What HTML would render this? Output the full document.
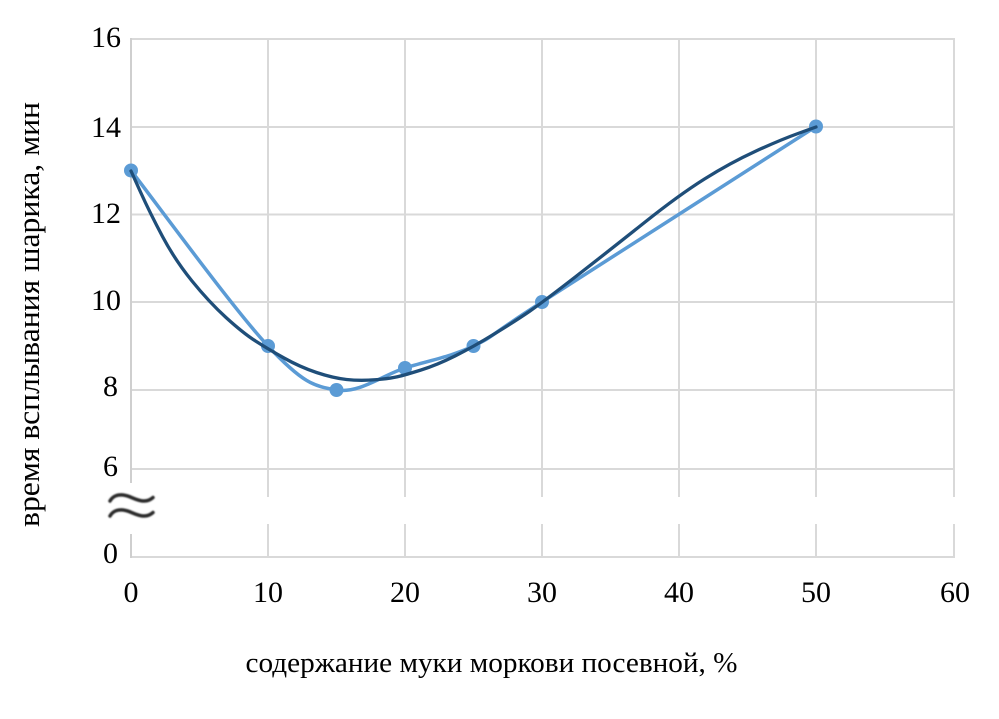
<!DOCTYPE html>
<html>
<head>
<meta charset="utf-8">
<style>
  html, body { margin: 0; padding: 0; background: #ffffff; }
  svg { display: block; }
  text { font-family: "Liberation Serif", "DejaVu Serif", serif; fill: #000; }
</style>
</head>
<body>
<svg width="999" height="719" viewBox="0 0 999 719" xmlns="http://www.w3.org/2000/svg">
  <defs>
    <filter id="blur" x="-20%" y="-50%" width="140%" height="200%">
      <feGaussianBlur stdDeviation="0.8"/>
    </filter>
  </defs>
  <rect x="0" y="0" width="999" height="719" fill="#ffffff"/>

  <!-- horizontal gridlines -->
  <g stroke="#d9d9d9" stroke-width="2" fill="none">
    <line x1="131" y1="39" x2="954" y2="39"/>
    <line x1="131" y1="127" x2="954" y2="127"/>
    <line x1="131" y1="214.5" x2="954" y2="214.5"/>
    <line x1="131" y1="302" x2="954" y2="302"/>
    <line x1="131" y1="390" x2="954" y2="390"/>
    <line x1="131" y1="469" x2="954" y2="469"/>
    <line x1="131" y1="557" x2="954" y2="557"/>
  </g>
  <!-- vertical gridlines with break -->
  <g stroke="#d9d9d9" stroke-width="2" fill="none">
    <line x1="268" y1="38" x2="268" y2="497"/><line x1="268" y1="524" x2="268" y2="558"/>
    <line x1="405" y1="38" x2="405" y2="497"/><line x1="405" y1="524" x2="405" y2="558"/>
    <line x1="542" y1="38" x2="542" y2="497"/><line x1="542" y1="524" x2="542" y2="558"/>
    <line x1="679" y1="38" x2="679" y2="497"/><line x1="679" y1="524" x2="679" y2="558"/>
    <line x1="816" y1="38" x2="816" y2="497"/><line x1="816" y1="524" x2="816" y2="558"/>
    <line x1="954" y1="38" x2="954" y2="497"/><line x1="954" y1="524" x2="954" y2="558"/>
  </g>
  <!-- left axis with break -->
  <g stroke="#cfcfcf" stroke-width="2" fill="none">
    <line x1="131" y1="38" x2="131" y2="483"/>
    <line x1="131" y1="534" x2="131" y2="558"/>
  </g>
  <!-- break symbol ≈ -->
  <g stroke="#2a2a2a" stroke-width="3.5" fill="none" stroke-linecap="round" filter="url(#blur)">
    <path d="M110,501 C113,496 117,494.5 123,495 C130,495.5 136,501 144,501 C149,501 151,499 153,497.5"/>
    <path d="M110,516 C113,511 117,509.5 123,510 C130,510.5 136,516 144,516 C149,516 151,514 153,512.5"/>
  </g>

  <!-- Y tick labels -->
  <g font-size="30" text-anchor="end">
    <text x="121" y="47">16</text>
    <text x="121" y="137">14</text>
    <text x="121" y="223">12</text>
    <text x="121" y="310">10</text>
    <text x="118" y="396">8</text>
    <text x="118" y="476">6</text>
    <text x="118" y="563">0</text>
  </g>
  <!-- X tick labels -->
  <g font-size="30" text-anchor="middle">
    <text x="131" y="602">0</text>
    <text x="268" y="602">10</text>
    <text x="405" y="602">20</text>
    <text x="542" y="602">30</text>
    <text x="679" y="602">40</text>
    <text x="816" y="602">50</text>
    <text x="955" y="602">60</text>
  </g>

  <!-- axis titles -->
  <text x="491.5" y="672" font-size="29" text-anchor="middle" textLength="492" lengthAdjust="spacingAndGlyphs">содержание муки моркови посевной, %</text>
  <text transform="translate(39,314.5) rotate(-90)" x="0" y="0" font-size="31" text-anchor="middle" textLength="425" lengthAdjust="spacingAndGlyphs">время всплывания шарика, мин</text>

  <!-- light smoothed series -->
  <path d="M131,170.5 C153.8,199.75 233.75,309.4 268,346 C302.25,382.6 313.7,386.3 336.5,390 C359.3,393.7 382.2,375.3 405,368 C427.8,360.7 450.7,357 473.5,346 C496.3,335 484.9,338.6 542,302 C599.1,265.4 770.3,155.75 816,126.5"
        fill="none" stroke="#5b9bd5" stroke-width="3.5" stroke-linejoin="round" stroke-linecap="round"/>
  <!-- markers -->
  <g fill="#5b9bd5">
    <circle cx="131" cy="170.5" r="7"/>
    <circle cx="268" cy="346" r="7"/>
    <circle cx="336.5" cy="390" r="7"/>
    <circle cx="405" cy="368" r="7"/>
    <circle cx="473.5" cy="346" r="7"/>
    <circle cx="542" cy="302" r="7"/>
    <circle cx="816" cy="126.5" r="7"/>
  </g>

  <!-- dark trend curve -->
  <path d="M131,171 L140.5,192 Q150,213 162.5,236.5 Q175,260 192,281 Q209,302 226,317.5 Q243,333 255.5,341 Q268,349 284,358 Q300,367 316.5,372.5 Q333,378 346.5,379.5 Q360,381 375,379.75 Q390,378.5 397.5,376.75 Q405,375 421,370 Q437,365 455,356 Q473,347 495,333.5 Q517,320 530,311 Q543,302 576.5,276 Q610,250 644.5,222.5 Q679,195 704.5,179 Q730,163 755,151.5 Q780,140 798,133.5 L816,127"
        fill="none" stroke="#1f4e79" stroke-width="3.3" stroke-linejoin="round" stroke-linecap="round"/>
</svg>
</body>
</html>
